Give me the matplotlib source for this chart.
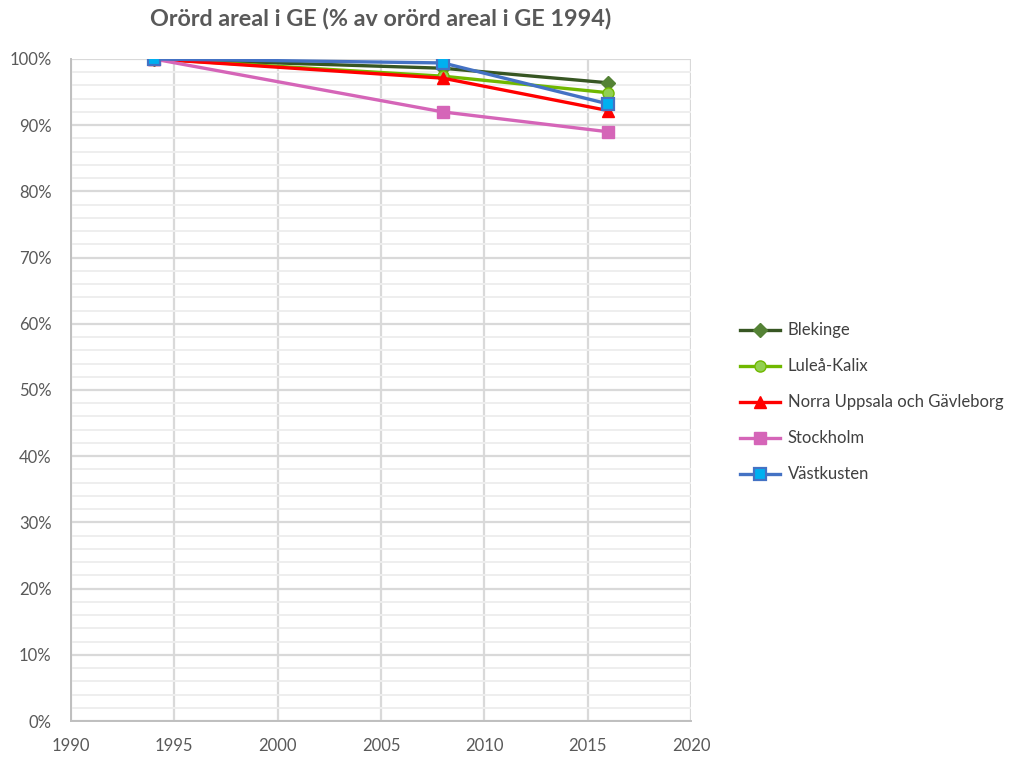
import matplotlib.pyplot as plt
from matplotlib.ticker import MultipleLocator, FuncFormatter

plt.rcParams['font.family'] = ['Lato', 'DejaVu Sans']

years = [1994, 2008, 2016]
blekinge = [100.0, 98.6, 96.4]
lulea_kalix = [100.0, 97.4, 94.9]
norra_uppsala = [100.0, 97.1, 92.2]
stockholm = [100.0, 92.0, 89.0]
vastkusten = [100.0, 99.4, 93.2]

title = 'Orörd areal i GE (% av orörd areal i GE 1994)'

series = [
    ('Blekinge', blekinge, dict(color='#375623', marker='D', mfc='#548235', mec='#548235', ms=7)),
    ('Luleå-Kalix', lulea_kalix, dict(color='#70b800', marker='o', mfc='#92d050', mec='#70b800', ms=8)),
    ('Norra Uppsala och Gävleborg', norra_uppsala, dict(color='#ff0000', marker='^', mfc='#ff0000', mec='#ff0000', ms=9)),
    ('Stockholm', stockholm, dict(color='#d565b8', marker='s', mfc='#d565b8', mec='#d565b8', ms=8)),
    ('Västkusten', vastkusten, dict(color='#4472c4', marker='s', mfc='#00b0f0', mec='#4472c4', ms=8, mew=1.6)),
]

fig = plt.figure(figsize=(10.17, 7.58), dpi=100)
ax = fig.add_axes([0.0698, 0.0488, 0.6096, 0.8734])

for name, vals, kw in series:
    ax.plot(years, vals, lw=2.4, label=name, zorder=3, **kw)

ax.set_xlim(1990, 2020)
ax.set_ylim(0, 100)
ax.xaxis.set_major_locator(MultipleLocator(5))
ax.yaxis.set_major_locator(MultipleLocator(10))
ax.yaxis.set_minor_locator(MultipleLocator(2))
ax.yaxis.set_major_formatter(FuncFormatter(lambda v, p: f'{v:.0f}%'))

ax.grid(which='major', color='#d9d9d9', lw=1.6, zorder=0)
ax.grid(which='minor', axis='y', color='#eeeeee', lw=1.4, zorder=0)
ax.set_axisbelow(True)
for s in ['top', 'right']:
    ax.spines[s].set_visible(False)
for s in ['left', 'bottom']:
    ax.spines[s].set_color('#bfbfbf')
    ax.spines[s].set_linewidth(1.4)
ax.tick_params(which='both', length=0, labelsize=12, colors='#595959')
ax.tick_params(axis='x', pad=12)
ax.tick_params(axis='y', pad=14)

ax.set_title(title, fontsize=16.8, fontweight='bold', color='#595959', pad=24)

leg = fig.legend(loc='center left', bbox_to_anchor=(0.713, 0.469), frameon=False,
                 fontsize=12, handlelength=2.4, handletextpad=0.45, labelspacing=1.2)
for t in leg.get_texts():
    t.set_color('#404040')

fig.savefig('out.png', dpi=100)
